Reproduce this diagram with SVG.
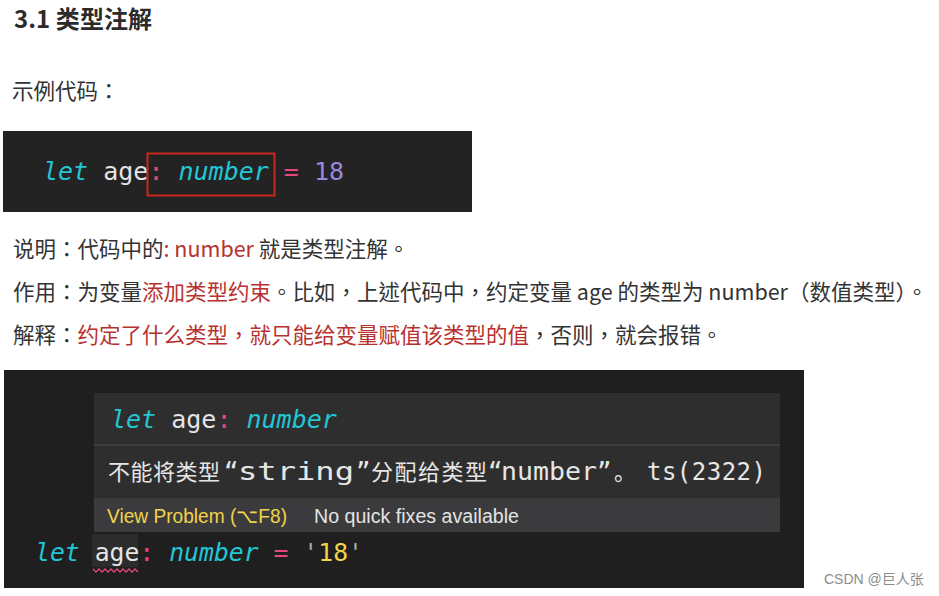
<svg xmlns="http://www.w3.org/2000/svg" width="939" height="596" viewBox="0 0 939 596">
<style>
.body{font-family:"Noto Sans CJK TC","Noto Sans CJK SC","Noto Sans",sans-serif;font-size:21.5px;fill:#333333}
.red{fill:#b8312f}
.mono{font-family:"DejaVu Sans Mono","Liberation Mono","Noto Sans CJK SC",monospace;font-size:25px}
.it{font-style:italic}
.cy{fill:#22c6d5}
.wh{fill:#e4e4e4}
.pk{fill:#e8467c}
.pu{fill:#9c86dc}
.ye{fill:#f2d34a}
.gr{fill:#a9a9a9}
.msg{font-family:"DejaVu Sans Mono","Noto Sans CJK SC",monospace;font-size:24px;fill:#e6e6e6}
.cjk{font-family:"Noto Sans CJK SC",sans-serif;font-size:22px}
.ui{font-family:"Liberation Sans","Noto Sans",sans-serif;font-size:20px}
</style>
<rect width="939" height="596" fill="#ffffff"/>

<g id="heading">
<text x="14" y="28" font-family="'Noto Sans CJK SC','Noto Sans',sans-serif" font-size="24" font-weight="700" fill="#2b2b2b" textLength="138" lengthAdjust="spacing">3.1 类型注解</text>
</g>

<g id="intro">
<text x="12" y="99" class="body" font-size="20">示例代码：</text>
</g>

<g id="code1">
<rect x="3" y="131" width="469" height="81" fill="#232323"/>
<text x="43" y="180" class="mono"><tspan class="cy it">let</tspan><tspan class="wh"> age</tspan><tspan class="pk">:</tspan><tspan class="cy it"> number</tspan><tspan class="pk"> =</tspan><tspan class="pu"> 18</tspan></text>
<rect x="147.5" y="153.5" width="127" height="42" fill="none" stroke="#c8281e" stroke-width="2"/>
</g>

<g id="explain">
<text x="13" y="257" class="body">说明：代码中的<tspan class="red">: number</tspan> 就是类型注解。</text>
<text x="13" y="300" class="body">作用：为变量<tspan class="red">添加类型约束</tspan>。比如，上述代码中，约定变量 age 的类型为 number（数值类型）。</text>
<text x="13" y="343" class="body">解释：<tspan class="red">约定了什么类型，就只能给变量赋值该类型的值</tspan>，否则，就会报错。</text>
</g>

<g id="code2">
<rect x="4" y="370" width="800" height="218" fill="#1f1f1f"/>
<g id="tooltip">
<rect x="94" y="393" width="686" height="139" fill="#2e2e2f"/>
<rect x="94" y="498" width="686" height="34" fill="#3b3b3d"/>
<line x1="94" y1="445" x2="780" y2="445" stroke="#454546" stroke-width="1.5"/>
<text x="111" y="428" class="mono"><tspan class="cy it">let</tspan><tspan class="wh"> age</tspan><tspan class="pk">:</tspan><tspan class="cy it"> number</tspan></text>
<text x="108" y="480" class="cjk" fill="#e6e6e6" textLength="112" lengthAdjust="spacing">不能将类型</text>
<text x="224" y="480" class="msg">“</text>
<text x="238" y="480" class="msg" textLength="116" lengthAdjust="spacingAndGlyphs">string</text>
<text x="356" y="480" class="msg">”</text>
<text x="371" y="480" class="cjk" fill="#e6e6e6" textLength="116" lengthAdjust="spacing">分配给类型</text>
<text x="488" y="480" class="msg">“</text>
<text x="501" y="480" class="msg" textLength="96" lengthAdjust="spacingAndGlyphs">number</text>
<text x="597" y="480" class="msg">”</text>
<text x="614" y="480" class="cjk" fill="#e6e6e6">。</text>
<text x="647" y="480" class="msg gr" textLength="119" lengthAdjust="spacing">ts(2322)</text>
<text x="107" y="523" class="ui ye" textLength="180" lengthAdjust="spacingAndGlyphs">View Problem (⌥F8)</text>
<text x="314" y="523" class="ui" fill="#e4e4e4" textLength="205" lengthAdjust="spacingAndGlyphs">No quick fixes available</text>
</g>
<g id="code-line">
<rect x="92" y="534" width="46" height="33" fill="#2c2c2c"/>
<text x="35" y="561" class="mono" textLength="328" lengthAdjust="spacingAndGlyphs"><tspan class="cy it">let</tspan><tspan class="wh"> age</tspan><tspan class="pk">:</tspan><tspan class="cy it"> number</tspan><tspan class="pk"> =</tspan><tspan class="gr"> '</tspan><tspan class="ye">18</tspan><tspan class="gr">'</tspan></text>
<path d="M93 569 l3 3 l3 -3 l3 3 l3 -3 l3 3 l3 -3 l3 3 l3 -3 l3 3 l3 -3 l3 3 l3 -3 l3 3 l3 -3 l3 3" fill="none" stroke="#e0457b" stroke-width="1.3"/>
</g>
</g>

<g id="watermark">
<text x="824" y="584" font-family="'Liberation Sans','Noto Sans CJK SC',sans-serif" font-size="14" fill="#8c8c8c">CSDN @巨人张</text>
</g>
</svg>
